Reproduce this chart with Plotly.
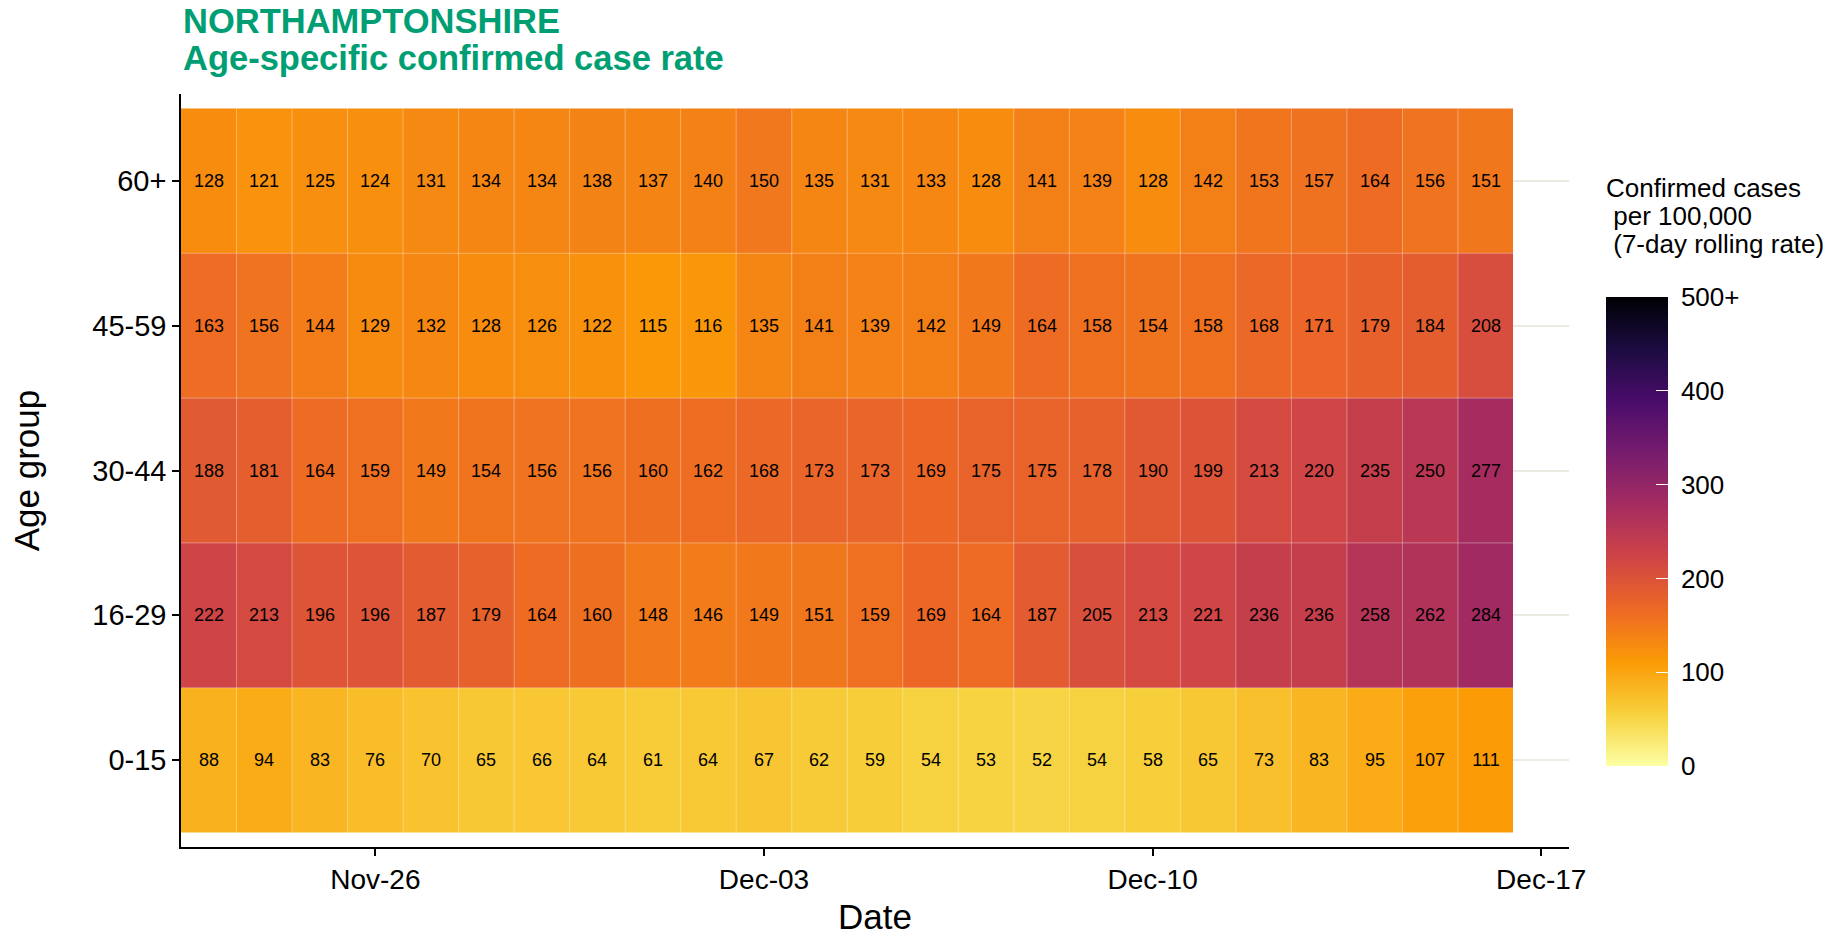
import pandas as pd
import plotly.graph_objects as go

dates = ["2020-11-23", "2020-11-24", "2020-11-25", "2020-11-26", "2020-11-27", "2020-11-28",
         "2020-11-29", "2020-11-30", "2020-12-01", "2020-12-02", "2020-12-03", "2020-12-04",
         "2020-12-05", "2020-12-06", "2020-12-07", "2020-12-08", "2020-12-09", "2020-12-10",
         "2020-12-11", "2020-12-12", "2020-12-13", "2020-12-14", "2020-12-15", "2020-12-16"]

age_groups = ["0-15", "16-29", "30-44", "45-59", "60+"]

rate_0_15 = [88, 94, 83, 76, 70, 65, 66, 64, 61, 64, 67, 62, 59, 54, 53, 52, 54, 58, 65, 73, 83, 95, 107, 111]
rate_16_29 = [222, 213, 196, 196, 187, 179, 164, 160, 148, 146, 149, 151, 159, 169, 164, 187, 205, 213, 221, 236, 236, 258, 262, 284]
rate_30_44 = [188, 181, 164, 159, 149, 154, 156, 156, 160, 162, 168, 173, 173, 169, 175, 175, 178, 190, 199, 213, 220, 235, 250, 277]
rate_45_59 = [163, 156, 144, 129, 132, 128, 126, 122, 115, 116, 135, 141, 139, 142, 149, 164, 158, 154, 158, 168, 171, 179, 184, 208]
rate_60p = [128, 121, 125, 124, 131, 134, 134, 138, 137, 140, 150, 135, 131, 133, 128, 141, 139, 128, 142, 153, 157, 164, 156, 151]

x_ticks = ["2020-11-26", "2020-12-03", "2020-12-10", "2020-12-17"]
x_ticktext = ["Nov-26", "Dec-03", "Dec-10", "Dec-17"]
cbar_vals = [0, 100, 200, 300, 400, 500]
cbar_text = ["0", "100", "200", "300", "400", "500+"]

FONT = "Liberation Sans, Arial, Helvetica, sans-serif"
TITLE_COLOR = "#009E73"

z = [rate_0_15, rate_16_29, rate_30_44, rate_45_59, rate_60p]

W, H = 1842, 936
ML, MR, MT, MB = 181, 273, 94, 89
PW = W - ML - MR
PH = H - MT - MB


def py(ypx):
    return (H - MB - ypx) / PH


def px(xpx):
    return (xpx - ML) / PW


fig = go.Figure()
fig.add_trace(go.Heatmap(
    x=dates, y=age_groups, z=z,
    colorscale="Inferno_r", zmin=0, zmax=500,
    texttemplate="%{z}",
    textfont=dict(family=FONT, size=18, color="black"),
    hoverinfo="x+y+z",
    colorbar=dict(
        x=px(1606), xanchor="left",
        y=py(531.5), yanchor="middle",
        thickness=62, thicknessmode="pixels",
        len=469, lenmode="pixels",
        outlinewidth=0,
        tickmode="array", tickvals=cbar_vals,
        ticktext=["\u00a0" + t for t in cbar_text],
        ticks="inside", ticklen=12, tickcolor="white", tickwidth=1,
        tickfont=dict(family=FONT, size=26, color="black"),
        xpad=0, ypad=0,
    ),
))

# faint translucent tile borders (between cells), derived from the data positions
d = pd.to_datetime(dates)
half = pd.Timedelta(hours=12)
border = dict(color="rgba(255,255,255,0.35)", width=1)
for t in d[1:]:
    fig.add_shape(type="line", xref="x", yref="y", layer="above",
                  x0=t - half, x1=t - half, y0=-0.5, y1=len(age_groups) - 0.5, line=border)
for k in range(1, len(age_groups)):
    fig.add_shape(type="line", xref="x", yref="y", layer="above",
                  x0=d[0] - half, x1=d[-1] + half, y0=k - 0.5, y1=k - 0.5, line=border)

fig.update_xaxes(
    type="date",
    range=["2020-11-22 12:00", "2020-12-17 12:00"],
    tickmode="array", tickvals=x_ticks, ticktext=x_ticktext,
    showgrid=False, zeroline=False,
    showline=True, linecolor="black", linewidth=1.5,
    ticks="outside", ticklen=7, tickcolor="black", tickwidth=1.5,
    tickfont=dict(family=FONT, size=28, color="black"),
    title=dict(text="Date", font=dict(family=FONT, size=35, color="black"), standoff=20),
)
fig.update_yaxes(
    type="category",
    range=[-0.6, 4.6],
    showgrid=True, gridcolor="#ebebe3", gridwidth=2,
    zeroline=False,
    showline=True, linecolor="black", linewidth=1.5,
    ticks="outside", ticklen=7, tickcolor="black", tickwidth=1.5,
    tickfont=dict(family=FONT, size=29, color="black"),
    title=dict(text="Age group", font=dict(family=FONT, size=35, color="black"), standoff=42),
)

annotations = [
    dict(text="<b>NORTHAMPTONSHIRE</b>", x=px(181), y=py(21), xref="paper", yref="paper",
         xanchor="left", yanchor="middle", showarrow=False,
         font=dict(family=FONT, size=34.5, color=TITLE_COLOR)),
    dict(text="<b>Age-specific confirmed case rate</b>", x=px(181), y=py(58), xref="paper", yref="paper",
         xanchor="left", yanchor="middle", showarrow=False,
         font=dict(family=FONT, size=34.5, color=TITLE_COLOR)),
]
legend_lines = ["Confirmed cases", "\u00a0per 100,000", "\u00a0(7-day rolling rate)"]
for i, line in enumerate(legend_lines):
    annotations.append(dict(text=line, x=px(1604), y=py(188 + 28 * i), xref="paper", yref="paper",
                            xanchor="left", yanchor="middle", showarrow=False,
                            font=dict(family=FONT, size=26, color="black")))

fig.update_layout(
    width=W, height=H,
    margin=dict(l=ML, r=MR, t=MT, b=MB, pad=0, autoexpand=False),
    paper_bgcolor="white", plot_bgcolor="white",
    annotations=annotations,
    font=dict(family=FONT, color="black"),
)

fig.write_html("out.html", config={"displayModeBar": False},
               post_script="document.body.style.margin='0';document.body.style.overflow='hidden';")
